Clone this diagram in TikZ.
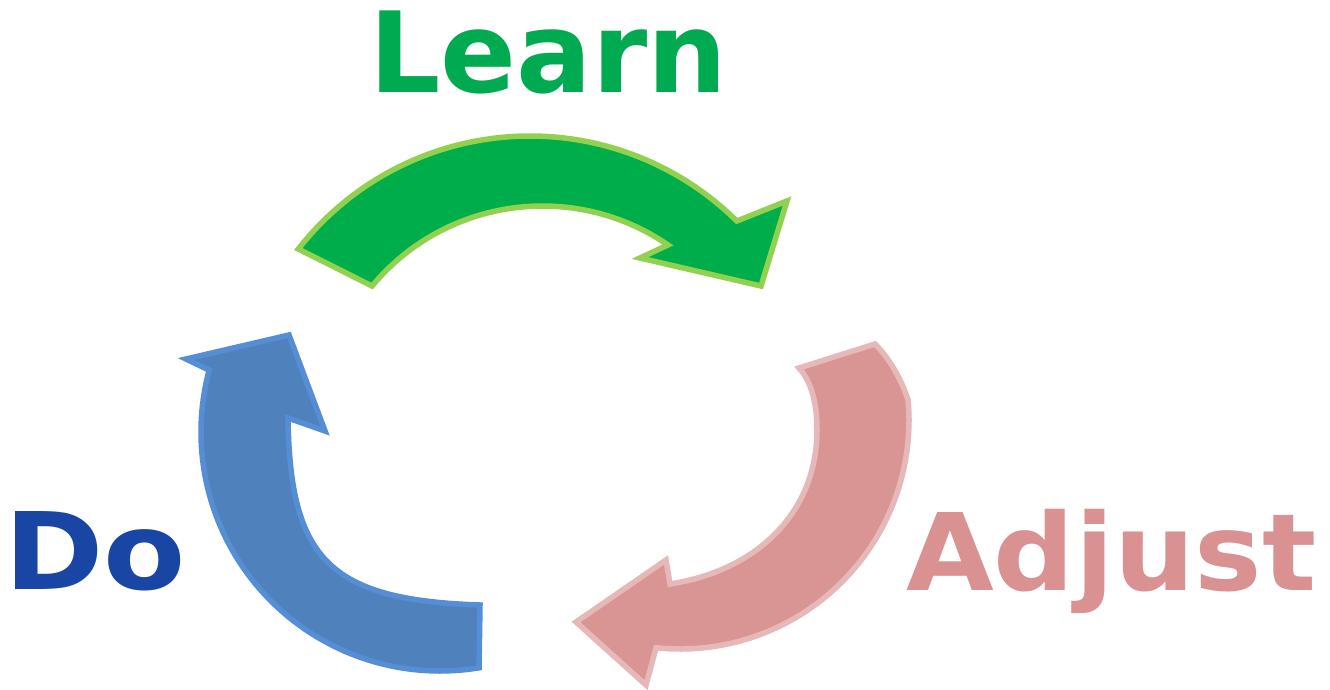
\documentclass[tikz,border=0pt]{standalone}
\usepackage{fontspec}
\newfontfamily\learnfont[FakeStretch=1.0]{DejaVu Sans}
\newfontfamily\dofont[FakeStretch=1.12]{DejaVu Sans}
\newfontfamily\adjfont[FakeStretch=1.06]{DejaVu Sans}
\definecolor{grfill}{RGB}{0,173,75}
\definecolor{grline}{RGB}{146,208,80}
\definecolor{pkfill}{RGB}{217,149,148}
\definecolor{pkline}{RGB}{230,184,183}
\definecolor{blfill}{RGB}{79,129,189}
\definecolor{blline}{RGB}{85,142,213}
\definecolor{learncol}{RGB}{0,170,80}
\definecolor{docol}{RGB}{25,70,165}
\definecolor{adjcol}{RGB}{217,145,146}
\begin{document}
\begin{tikzpicture}[x=1pt,y=-1pt,
  arrowshape/.style={line width=5.5pt,line join=miter},
  lbl/.style={inner sep=0pt,anchor=base west}]
\useasboundingbox[fill=white] (0,0) rectangle (1330,689);
% green arrow (Learn)
\draw[arrowshape,fill=grfill,draw=grline]
  ([shift={(-142:294)}]530,430) arc[start angle=-142,end angle=-45.3,radius=294]
  -- (787,201) -- (761,286) -- (640,258)
  -- ([shift={(-55.5:221.5)}]542.5,427.5) arc[start angle=-55.5,end angle=-140.3,radius=221.5]
  -- cycle;
% pink arrow (Adjust)
\draw[arrowshape,fill=pkfill,draw=pkline]
  (875,344) .. controls (893,362) and (903,385) .. ([shift={(-5:229)}]680,420)
  arc[start angle=-5,end angle=96,radius=229]
  -- (646,685) -- (576,622) -- (666,560) -- (670,584)
  .. controls (760,570) and (817,510) .. (817,430)
  .. controls (817,400) and (810,380) .. (799,368)
  -- cycle;
% blue arrow (Do)
\draw[arrowshape,fill=blfill,draw=blline]
  ([shift={(80.6:239)}]440,432) arc[start angle=80.6,end angle=195,radius=239]
  -- (186,359) -- (289,335) -- (325,431) -- (288,418)
  .. controls (290,560) and (330,600) .. (480,605)
  -- cycle;
% labels
\node[lbl,text=learncol,font=\learnfont\bfseries\fontsize{112}{112}\selectfont] (learn) at (369,92) {Learn};
\node[lbl,text=docol,font=\dofont\bfseries\fontsize{107}{107}\selectfont] (do) at (4,589) {Do};
\node[lbl,text=adjcol,font=\adjfont\bfseries\fontsize{107}{107}\selectfont] (adjust) at (906,590) {Adjust};
\end{tikzpicture}
\end{document}
